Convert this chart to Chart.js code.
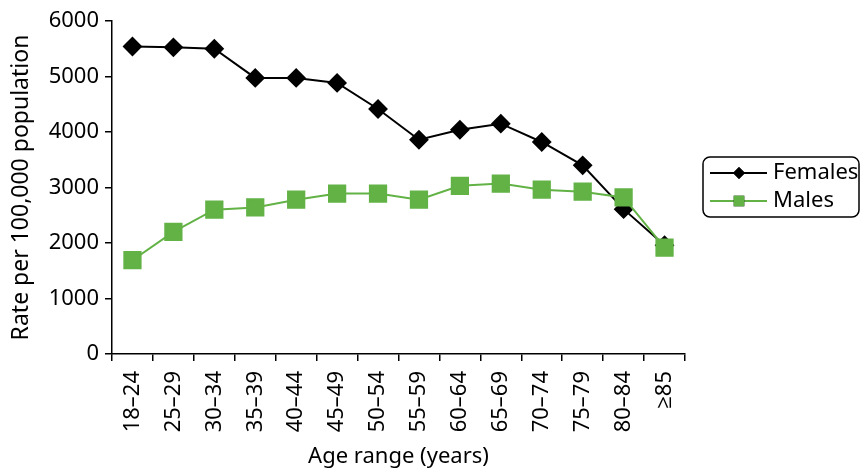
<!DOCTYPE html>
<html>
<head>
<meta charset="utf-8">
<script src="https://cdn.jsdelivr.net/npm/chart.js@4.4.1/dist/chart.umd.min.js"></script>
<style>
  html, body { margin: 0; padding: 0; background: #fff; }
  #wrap { width: 862px; height: 470px; }
</style>
</head>
<body>
<div id="wrap"><canvas id="rateChart"></canvas></div>
<script>
// age groups on the x axis
const ageGroups = ['18\u201324', '25\u201329', '30\u201334', '35\u201339', '40\u201344', '45\u201349', '50\u201354',
  '55\u201359', '60\u201364', '65\u201369', '70\u201374', '75\u201379', '80\u201384', '\u226585'];

// rate per 100,000
const femaleRates = [5540, 5525, 5500, 4975, 4975, 4885, 4415, 3860, 4040, 4150, 3820, 3400, 2610, 1960];
const maleRates = [1690, 2200, 2600, 2640, 2780, 2890, 2890, 2780, 3030, 3070, 2960, 2925, 2820, 1915];

const yTicks = [0, 1000, 2000, 3000, 4000, 5000, 6000];

const GREEN = '#62b246';
const FONT = '"Noto Sans", "Open Sans", sans-serif';
const FS = 22;

// legend with a rounded box, line + marker like the original
const boxLegend = {
  id: 'boxLegend',
  afterDraw(chart) {
    const ctx = chart.ctx;
    const x = 703, y = 157, w = 156, h = 60;
    ctx.save();
    ctx.strokeStyle = '#000';
    ctx.lineWidth = 1.5;
    ctx.beginPath();
    ctx.roundRect(x, y, w, h, 7);
    ctx.stroke();
    chart.data.datasets.forEach((ds, i) => {
      const cy = y + 16 + i * 28;
      ctx.strokeStyle = ds.borderColor;
      ctx.lineWidth = 2;
      ctx.beginPath();
      ctx.moveTo(x + 7, cy);
      ctx.lineTo(x + 64, cy);
      ctx.stroke();
      Chart.helpers.drawPoint(ctx, {
        pointStyle: ds.pointStyle,
        radius: i === 0 ? 6 : 7.5,
        borderWidth: 0
      }, x + 36, cy);
      ctx.fillStyle = ds.pointBackgroundColor;
      ctx.fill();
      ctx.fillStyle = '#000';
      ctx.font = FS + 'px ' + FONT;
      ctx.textBaseline = 'middle';
      ctx.fillText(ds.label, x + 70, cy);
    });
    ctx.restore();
  }
};

new Chart(document.getElementById('rateChart'), {
  type: 'line',
  data: {
    labels: ageGroups,
    datasets: [{
      label: 'Females',
      data: femaleRates,
      order: 2,
      borderColor: '#000',
      backgroundColor: '#000',
      pointBackgroundColor: '#000',
      pointBorderColor: '#000',
      pointStyle: 'rectRot',
      pointRadius: 8.5,
      borderWidth: 2,
      tension: 0
    }, {
      label: 'Males',
      data: maleRates,
      order: 1,
      borderColor: GREEN,
      backgroundColor: GREEN,
      pointBackgroundColor: GREEN,
      pointBorderColor: GREEN,
      pointStyle: 'rect',
      pointRadius: 11.5,
      borderWidth: 2,
      tension: 0
    }]
  },
  options: {
    responsive: true,
    maintainAspectRatio: false,
    animation: false,
    layout: { padding: { top: 21, right: 177, left: 2, bottom: 0 } },
    plugins: {
      legend: { display: false },
      tooltip: { enabled: false }
    },
    scales: {
      x: {
        offset: true,
        afterFit(scale) { scale.height = 116; },
        grid: { offset: true, drawOnChartArea: false, tickLength: 7, color: '#000', lineWidth: 1.5 },
        border: { color: '#000', width: 1.5 },
        ticks: { color: '#000', font: { family: FONT, size: FS }, maxRotation: 90, minRotation: 90, padding: 10, autoSkip: false },
        title: { display: true, text: 'Age range (years)', color: '#000', font: { family: FONT, size: FS }, padding: { top: 0, bottom: 0 } }
      },
      y: {
        min: 0,
        max: 6000,
        afterFit(scale) { scale.width = 110; },
        afterBuildTicks(scale) { scale.ticks = yTicks.map(v => ({ value: v })); },
        grid: { drawOnChartArea: false, tickLength: 7, color: '#000', lineWidth: 1.5 },
        border: { color: '#000', width: 1.5 },
        ticks: { color: '#000', font: { family: FONT, size: FS }, padding: 6, callback: v => String(v) },
        title: { display: true, text: 'Rate per 100,000 population', color: '#000', font: { family: FONT, size: 23 }, padding: { top: 6, bottom: 2 } }
      }
    }
  },
  plugins: [boxLegend]
});
</script>
</body>
</html>
